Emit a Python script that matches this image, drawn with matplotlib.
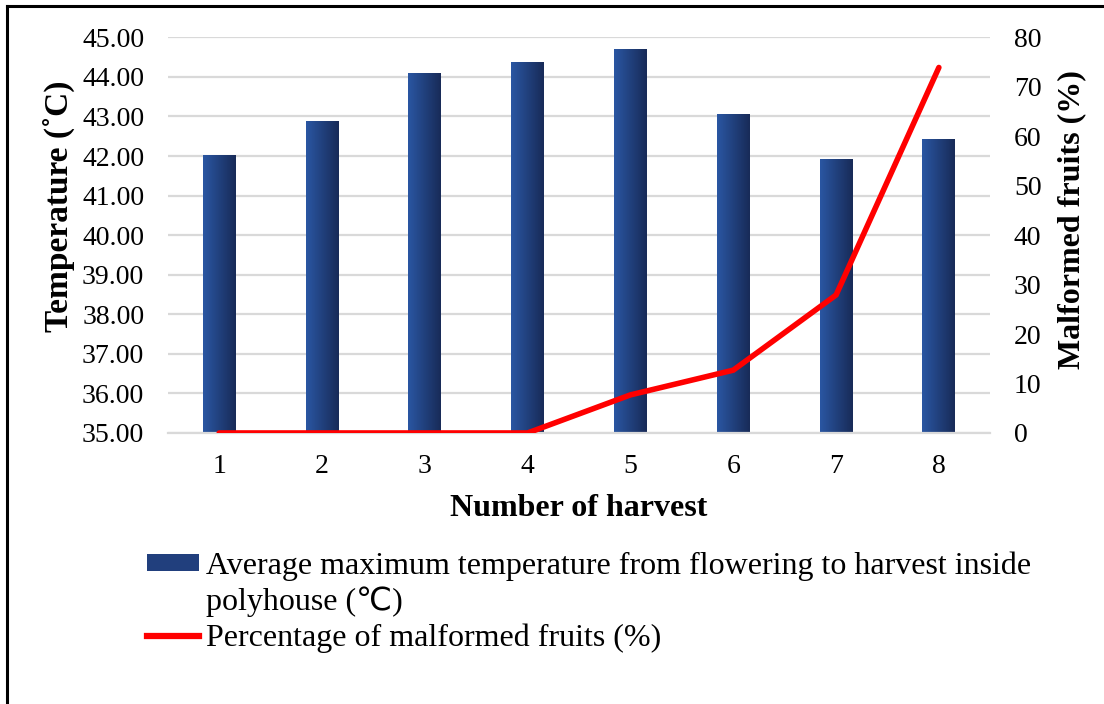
import numpy as np
from matplotlib import pyplot as plt
from matplotlib.patches import Patch
from matplotlib.lines import Line2D
from matplotlib.colors import LinearSegmentedColormap

plt.rcParams['font.family'] = ['Liberation Serif', 'DejaVu Sans']

harvest = [1, 2, 3, 4, 5, 6, 7, 8]
max_temp = [42.02, 42.88, 44.09, 44.37, 44.70, 43.06, 41.92, 42.42]
malformed = [0.0, 0.0, 0.0, 0.0, 7.7, 12.7, 27.9, 73.9]

temp_ticks = np.arange(35, 46, 1)
pct_ticks = np.arange(0, 81, 10)

fig = plt.figure(figsize=(11.04, 7.04), dpi=100)
ax = fig.add_axes([0.152, 0.385, 0.745, 0.562])
ax2 = ax.twinx()

# gradient bars (lighter blue on the left to dark navy on the right)
cmap = LinearSegmentedColormap.from_list("bar", ["#2a56a2", "#182b58"])
grad = np.linspace(0, 1, 64).reshape(1, -1)
bars = ax.bar(harvest, [t - 35 for t in max_temp], width=0.32, bottom=35,
              color="none", edgecolor="none", zorder=2)
for b in bars:
    x0, y0 = b.get_x(), b.get_y()
    im = ax.imshow(grad, cmap=cmap, aspect="auto", zorder=2,
                   extent=[x0, x0 + b.get_width(), y0, y0 + b.get_height()])
    im.set_clip_path(b)

ax.set_xlim(0.5, 8.5)
ax.set_ylim(35, 45)
ax.set_yticks(temp_ticks)
ax.set_yticklabels(["%.2f" % t for t in temp_ticks])
ax.set_xticks(harvest)
ax.grid(axis="y", color="#d9d9d9", linewidth=1.6, zorder=0)
ax.set_axisbelow(True)
for s in ["top", "right", "left"]:
    ax.spines[s].set_visible(False)
ax.spines["bottom"].set_color("#d9d9d9")
ax.spines["bottom"].set_linewidth(1.6)
ax.tick_params(axis="both", length=0, labelsize=20)
ax.tick_params(axis="y", pad=17)
ax.tick_params(axis="x", pad=15)
ax.set_xlabel("Number of harvest", fontsize=23, fontweight="bold", labelpad=11)
ax.set_ylabel("Temperature (˚C)", fontsize=24, fontweight="bold")
ax.yaxis.set_label_coords(-0.113, 0.573)

ax2.plot(harvest, malformed, color="#ff0000", linewidth=4.0,
         solid_capstyle="round", solid_joinstyle="miter")
ax2.set_ylim(0, 80)
ax2.set_yticks(pct_ticks)
for s in ["top", "right", "left", "bottom"]:
    ax2.spines[s].set_visible(False)
ax2.tick_params(axis="y", length=0, labelsize=20, pad=17)
ax2.set_ylabel("Malformed fruits (%)", fontsize=23, fontweight="bold")
ax2.yaxis.set_label_coords(1.0815, 0.54)

# legend: the wrapped first label is split so the swatch sits on its first line
handles = [Patch(facecolor="#213f7d", edgecolor="none"),
           Patch(facecolor="none", edgecolor="none"),
           Line2D([0], [0], color="#ff0000", linewidth=4.5)]
labels = ["Average maximum temperature from flowering to harvest inside",
          "polyhouse (℃)",
          "Percentage of malformed fruits (%)"]
fig.legend(handles, labels, loc="upper left", bbox_to_anchor=(0.119, 0.24),
           frameon=False, fontsize=23, handlelength=1.63, handleheight=0.45,
           handletextpad=0.22, labelspacing=0.2, borderpad=0)

# outer frame (left and top edges are visible in the original)
fig.add_artist(Line2D([0.006, 0.006], [0.0, 0.992], color="black", linewidth=2.2,
                      transform=fig.transFigure))
fig.add_artist(Line2D([0.006, 1.0], [0.992, 0.992], color="black", linewidth=2.2,
                      transform=fig.transFigure))

plt.savefig("out.png", dpi=100)
